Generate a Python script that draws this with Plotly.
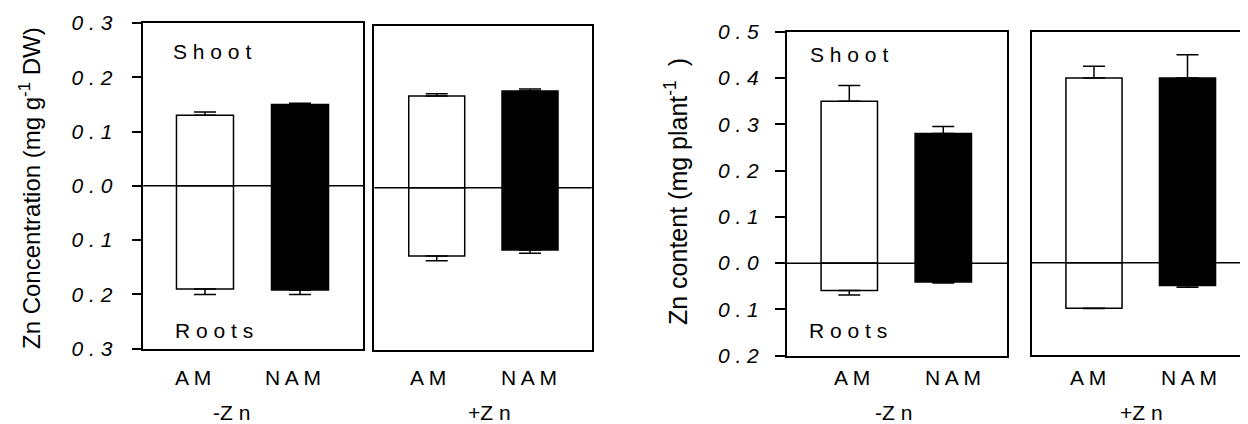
import plotly.graph_objects as go

# The page puts the figure 8 px from the top-left corner of the window,
# so the figure is sized to fill exactly the rest of the 1248x424 window.
OFF = 8
W, H = 1248 - OFF, 424 - OFF

# ---------------- data ----------------
treatments = ["AM", "NAM"]
treatment_labels = ["A M", "N A M"]
group_labels = ["-Z n", "+Z n"]

conc_tickvals = [-0.3, -0.2, -0.1, 0.0, 0.1, 0.2, 0.3]
conc_ticktext = ["0 . 3", "0 . 2", "0 . 1", "0 . 0", "0 . 1", "0 . 2", "0 . 3"]
cont_tickvals = [-0.2, -0.1, 0.0, 0.1, 0.2, 0.3, 0.4, 0.5]
cont_ticktext = ["0 . 2", "0 . 1", "0 . 0", "0 . 1", "0 . 2", "0 . 3", "0 . 4", "0 . 5"]

# Zn concentration (mg g-1 DW)
conc_shoot_minusZn = [0.130, 0.150]
conc_shoot_minusZn_err = [0.006, 0.002]
conc_root_minusZn = [0.190, 0.192]
conc_root_minusZn_err = [0.010, 0.008]
conc_shoot_plusZn = [0.170, 0.179]
conc_shoot_plusZn_err = [0.004, 0.004]
conc_root_plusZn = [0.126, 0.115]
conc_root_plusZn_err = [0.009, 0.006]

# Zn content (mg plant-1)
cont_shoot_minusZn = [0.350, 0.280]
cont_shoot_minusZn_err = [0.034, 0.015]
cont_root_minusZn = [0.059, 0.041]
cont_root_minusZn_err = [0.010, 0.002]
cont_shoot_plusZn = [0.400, 0.400]
cont_shoot_plusZn_err = [0.025, 0.050]
cont_root_plusZn = [0.098, 0.049]
cont_root_plusZn_err = [0.001, 0.004]

bar_colors = ["white", "black"]

# ---------------- layout helpers (window pixels -> paper fractions) ----------------
def px(x):
    return (x - OFF) / W

def py(y):
    return 1 - (y - OFF) / H

def xd(p0, p1):
    return [px(p0), min(px(p1), 1.0)]

def yd(top, bottom):
    return [py(bottom), py(top)]

FONT = "Liberation Sans"

panels = [
    dict(n=1, xdom=xd(143.3, 363.3), ydom=yd(23.0, 348.7), xr=[-0.649, 1.666], yr=[-0.3, 0.3],
         shoot=conc_shoot_minusZn, shoot_err=conc_shoot_minusZn_err,
         root=conc_root_minusZn, root_err=conc_root_minusZn_err,
         ticks=(conc_tickvals, conc_ticktext), standoff=15, group=group_labels[0], gx=0.40,
         label_shift=[-12, -7], right=True),
    dict(n=2, xdom=xd(374.3, 591.7), ydom=yd(25.7, 350.0), xr=[-0.669, 1.661], yr=[-0.3, 0.3],
         shoot=conc_shoot_plusZn, shoot_err=conc_shoot_plusZn_err,
         root=conc_root_plusZn, root_err=conc_root_plusZn_err,
         ticks=None, standoff=0, group=group_labels[1], gx=0.528,
         label_shift=[-9, -1], right=True),
    dict(n=3, xdom=xd(786.7, 1007.3), ydom=yd(31.7, 355.7), xr=[-0.666, 1.681], yr=[-0.2, 0.5],
         shoot=cont_shoot_minusZn, shoot_err=cont_shoot_minusZn_err,
         root=cont_root_minusZn, root_err=cont_root_minusZn_err,
         ticks=(cont_tickvals, cont_ticktext), standoff=12, group=group_labels[0], gx=0.482,
         label_shift=[3, 10], right=True),
    dict(n=4, xdom=xd(1031.7, 1248.0), ydom=yd(31.7, 355.3), xr=[-0.666, 1.647], yr=[-0.2, 0.5],
         shoot=cont_shoot_plusZn, shoot_err=cont_shoot_plusZn_err,
         root=cont_root_plusZn, root_err=cont_root_plusZn_err,
         ticks=None, standoff=0, group=group_labels[1], gx=0.506,
         label_shift=[-6, 1], right=False),
]

fig = go.Figure()
annotations = []
shapes = []
LW = 1.5

for p in panels:
    n = p["n"]
    xa = "x" if n == 1 else f"x{n}"
    ya = "y" if n == 1 else f"y{n}"
    xpos = list(range(len(treatments)))

    fig.add_trace(go.Bar(
        x=xpos, y=p["shoot"], width=0.6, xaxis=xa, yaxis=ya,
        marker=dict(color=bar_colors, line=dict(color="black", width=LW)),
        error_y=dict(type="data", symmetric=False, array=p["shoot_err"],
                     arrayminus=[0] * len(treatments), color="black", thickness=LW, width=11),
        showlegend=False, hoverinfo="skip"))
    fig.add_trace(go.Bar(
        x=xpos, y=[-v for v in p["root"]], width=0.6, xaxis=xa, yaxis=ya,
        marker=dict(color=bar_colors, line=dict(color="black", width=LW)),
        error_y=dict(type="data", symmetric=False, array=[0] * len(treatments),
                     arrayminus=p["root_err"], color="black", thickness=LW, width=11),
        showlegend=False, hoverinfo="skip"))

    xkey = "xaxis" if n == 1 else f"xaxis{n}"
    ykey = "yaxis" if n == 1 else f"yaxis{n}"
    fig.layout[xkey] = dict(domain=p["xdom"], range=p["xr"], anchor=ya, automargin=False,
                            showgrid=False, zeroline=False, showticklabels=False, ticks="",
                            showline=True, mirror=True, linecolor="black", linewidth=LW,
                            fixedrange=True)
    ycfg = dict(domain=p["ydom"], range=p["yr"], anchor=xa, automargin=False,
                showgrid=False, zeroline=False,
                showline=True, mirror=p["right"], linecolor="black", linewidth=LW,
                fixedrange=True)
    if p["ticks"] is not None:
        ycfg.update(tickmode="array", tickvals=p["ticks"][0], ticktext=p["ticks"][1],
                    ticks="outside", ticklen=10, tickwidth=LW, tickcolor="black",
                    ticklabelstandoff=p["standoff"],
                    tickfont=dict(family=FONT, size=21, color="black", style="italic"))
    else:
        ycfg.update(showticklabels=False, ticks="")
    fig.layout[ykey] = ycfg

    # zero line above bars
    shapes.append(dict(type="line", xref=f"{xa} domain", yref=ya, x0=0, x1=1, y0=0, y1=0,
                       line=dict(color="black", width=LW), layer="above"))

    # treatment labels
    for i, lab in enumerate(treatment_labels):
        annotations.append(dict(text=lab, xref=xa, yref="paper", x=i, y=py(377.0),
                                xshift=p["label_shift"][i], showarrow=False,
                                xanchor="center", yanchor="middle",
                                font=dict(family=FONT, size=21, color="black")))
    # group label
    annotations.append(dict(text=p["group"], xref=f"{xa} domain", yref="paper", x=p["gx"],
                            y=py(412.0), showarrow=False, xanchor="center", yanchor="middle",
                            font=dict(family=FONT, size=21, color="black")))

# Shoot / Roots labels
for xa, sx, sy, rx, ry in [("x", 0.126, 51.7, 0.134, 330.0), ("x3", 0.095, 54.3, 0.091, 330.0)]:
    annotations.append(dict(text="S h o o t", xref=f"{xa} domain", yref="paper", x=sx, y=py(sy),
                            showarrow=False, xanchor="left", yanchor="middle",
                            font=dict(family=FONT, size=21, color="black")))
    annotations.append(dict(text="R o o t s", xref=f"{xa} domain", yref="paper", x=rx, y=py(ry),
                            showarrow=False, xanchor="left", yanchor="middle",
                            font=dict(family=FONT, size=21, color="black")))

# y-axis titles
annotations.append(dict(text="Zn Concentration (mg g<sup>-1</sup> DW)", xref="paper", yref="paper",
                        x=px(30), y=py(188), textangle=-90, showarrow=False,
                        xanchor="center", yanchor="middle",
                        font=dict(family=FONT, size=24, color="black")))
annotations.append(dict(text="Zn content (mg plant<sup>-1</sup>  )", xref="paper", yref="paper",
                        x=px(676), y=py(192), textangle=-90, showarrow=False,
                        xanchor="center", yanchor="middle",
                        font=dict(family=FONT, size=25, color="black")))

fig.update_layout(width=W, height=H, margin=dict(l=0, r=0, t=0, b=0, autoexpand=False),
                  paper_bgcolor="white", plot_bgcolor="white",
                  barmode="overlay", showlegend=False,
                  annotations=annotations, shapes=shapes,
                  font=dict(family=FONT, color="black"))

fig.write_html("out.html")
